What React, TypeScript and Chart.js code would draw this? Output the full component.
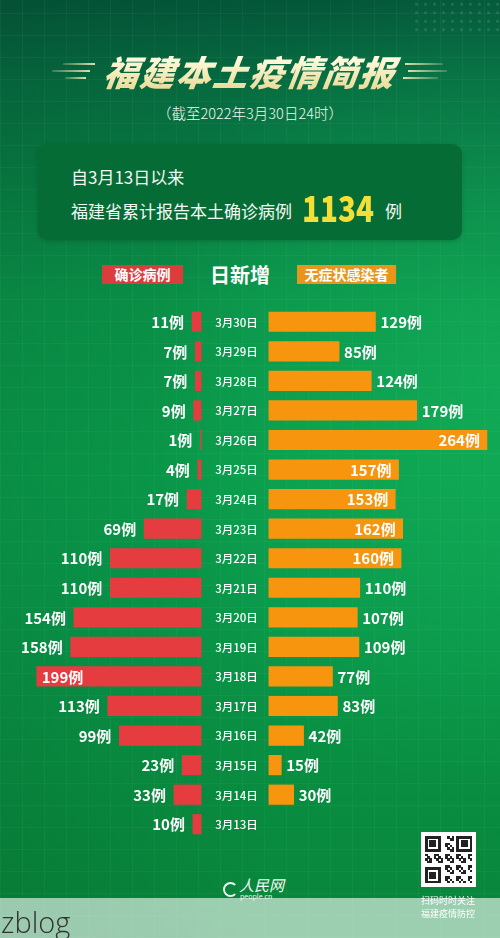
import React, { useEffect, useRef } from "react";
import { Chart, registerables } from "chart.js";

Chart.register(...registerables);

// ---------------- data ----------------
const dates = [
  "3月30日", "3月29日", "3月28日", "3月27日", "3月26日", "3月25日",
  "3月24日", "3月23日", "3月22日", "3月21日", "3月20日", "3月19日",
  "3月18日", "3月17日", "3月16日", "3月15日", "3月14日", "3月13日",
];
const confirmed = [11, 7, 7, 9, 1, 4, 17, 69, 110, 110, 154, 158, 199, 113, 99, 23, 33, 10];
const asymptomatic: (number | null)[] = [129, 85, 124, 179, 264, 157, 153, 162, 160, 110, 107, 109, 77, 83, 42, 15, 30, null];
const leftInside = ["3月18日"];
const rightInside = ["3月26日", "3月25日", "3月24日", "3月23日", "3月22日"];
const unit = "例";
const title = "福建本土疫情简报";
const subtitle = "（截至2022年3月30日24时）";
const sinceText = "自3月13日以来";
const totalPrefix = "福建省累计报告本土确诊病例";
const totalValue = "1134";
const legendLeft = "确诊病例";
const legendMid = "日新增";
const legendRight = "无症状感染者";

// ---------------- layout constants ----------------
const HALF_GAP = 41; // half of the central gap, in value units
const X_MIN = -284.5;
const X_MAX = 320.8;
const RED = "#e43c3f";
const ORANGE = "#f7960e";
const CJK = '"Noto Sans CJK SC", "Noto Sans", sans-serif';

const labelPlugin = {
  id: "butterflyLabels",
  afterDatasetsDraw(chart: any) {
    const ctx = chart.ctx;
    const xs = chart.scales.x;
    const ys = chart.scales.y;
    ctx.save();
    ctx.textBaseline = "middle";
    // date labels
    ctx.font = `500 11.5px ${CJK}`;
    ctx.fillStyle = "#ffffff";
    ctx.textAlign = "center";
    const mid = xs.getPixelForValue(0) + 1.5;
    dates.forEach((d, i) => {
      ctx.fillText(d, mid, ys.getPixelForValue(i) + 0.5);
    });
    ctx.font = `bold 15px ${CJK}`;
    // left labels
    const m0 = chart.getDatasetMeta(0);
    m0.data.forEach((el: any, i: number) => {
      const left = Math.min(el.x, el.base);
      const y = el.y + 0.5;
      const txt = confirmed[i] + unit;
      if (leftInside.includes(dates[i])) {
        ctx.textAlign = "left";
        ctx.fillText(txt, left + 5, y);
      } else {
        ctx.textAlign = "right";
        ctx.fillText(txt, left - 8, y);
      }
    });
    const m1 = chart.getDatasetMeta(1);
    m1.data.forEach((el: any, i: number) => {
      const v = asymptomatic[i];
      if (v == null) return;
      const right = Math.max(el.x, el.base);
      const y = el.y + 0.5;
      const txt = v + unit;
      if (rightInside.includes(dates[i])) {
        ctx.textAlign = "right";
        ctx.fillText(txt, right - 7, y);
      } else {
        ctx.textAlign = "left";
        ctx.fillText(txt, right + 5, y);
      }
    });
    ctx.restore();
  },
};

function ButterflyChart() {
  const ref = useRef<HTMLCanvasElement | null>(null);
  useEffect(() => {
    if (!ref.current) return;
    const chart = new Chart(ref.current, {
      type: "bar",
      data: {
        labels: dates,
        datasets: [
          {
            label: legendLeft,
            data: confirmed.map((v) => [-(HALF_GAP + v), -HALF_GAP]) as any,
            backgroundColor: RED,
            borderWidth: 0,
            grouped: false,
            barThickness: 19.5,
          } as any,
          {
            label: legendRight,
            data: asymptomatic.map((v) => (v == null ? null : [HALF_GAP, HALF_GAP + v])) as any,
            backgroundColor: ORANGE,
            borderWidth: 0,
            grouped: false,
            barThickness: 19.5,
          } as any,
        ],
      },
      options: {
        indexAxis: "y",
        responsive: false,
        maintainAspectRatio: false,
        animation: false,
        layout: { padding: 0 },
        plugins: { legend: { display: false }, tooltip: { enabled: false } },
        scales: {
          x: { type: "linear", min: X_MIN, max: X_MAX, display: false },
          y: { type: "category", display: false, offset: true },
        },
      },
      plugins: [labelPlugin],
    });
    return () => chart.destroy();
  }, []);
  return (
    <canvas
      ref={ref}
      width={500}
      height={532}
      style={{ position: "absolute", left: 0, top: 307, width: 500, height: 532 }}
    />
  );
}

function DecoLines({ side }: { side: "left" | "right" }) {
  const lines =
    side === "left"
      ? [
          { x1: 63, x2: 95, y: 64 },
          { x1: 52, x2: 90, y: 71 },
          { x1: 65, x2: 86, y: 78 },
        ]
      : [
          { x1: 405, x2: 443, y: 64 },
          { x1: 408, x2: 447, y: 71 },
          { x1: 403, x2: 438, y: 78 },
        ];
  return (
    <>
      {lines.map((l, i) => (
        <div
          key={i}
          style={{
            position: "absolute",
            left: l.x1,
            top: l.y - 1,
            width: l.x2 - l.x1,
            height: 1.5,
            background:
              side === "left"
                ? "linear-gradient(90deg, rgba(240,235,190,0.2), rgba(240,235,190,0.9))"
                : "linear-gradient(90deg, rgba(240,235,190,0.9), rgba(240,235,190,0.2))",
          }}
        />
      ))}
    </>
  );
}

function QR() {
  const n = 21;
  const cells: JSX.Element[] = [];
  const size = 47 / n;
  const finder = (r: number, c: number) => {
    const inF = (r0: number, c0: number) => {
      const rr = r - r0, cc = c - c0;
      if (rr < 0 || rr > 6 || cc < 0 || cc > 6) return null;
      if (rr === 0 || rr === 6 || cc === 0 || cc === 6) return true;
      if (rr >= 2 && rr <= 4 && cc >= 2 && cc <= 4) return true;
      return false;
    };
    const a = inF(0, 0);
    if (a !== null) return a;
    const b = inF(0, n - 7);
    if (b !== null) return b;
    const c2 = inF(n - 7, 0);
    if (c2 !== null) return c2;
    if ((r === 7 && (c <= 7 || c >= n - 8)) || (c === 7 && (r <= 7 || r >= n - 8)) || (r === n - 8 && c <= 7) || (c === n - 8 && r <= 7)) return false;
    return ((r * 7 + c * 13 + r * c) % 5) < 2;
  };
  for (let r = 0; r < n; r++)
    for (let c = 0; c < n; c++)
      if (finder(r, c))
        cells.push(
          <div
            key={r * n + c}
            style={{ position: "absolute", left: c * size, top: r * size, width: size + 0.3, height: size + 0.3, background: "#222" }}
          />
        );
  return (
    <div style={{ position: "absolute", left: 421, top: 832, width: 55, height: 55, background: "#fff" }}>
      <div style={{ position: "absolute", left: 4, top: 4, width: 47, height: 47 }}>{cells}</div>
    </div>
  );
}

export default function App() {
  useEffect(() => {
    document.body.style.margin = "0";
  }, []);
  return (
    <div
      style={{
        position: "absolute",
        left: 0,
        top: 0,
        width: 500,
        height: 938,
        overflow: "hidden",
        fontFamily: CJK,
        background: [
          "repeating-linear-gradient(0deg, rgba(255,255,255,0.035) 0 1px, transparent 1px 22px)",
          "repeating-linear-gradient(90deg, rgba(255,255,255,0.035) 0 1px, transparent 1px 22px)",
          "radial-gradient(ellipse 70% 45% at 100% 40%, rgba(30,200,110,0.35), rgba(30,200,110,0) 100%)",
          "linear-gradient(90deg, rgba(0,40,20,0.12), rgba(0,40,20,0) 55%)",
          "linear-gradient(180deg, #04563a 0%, #066a40 8%, #087f44 20%, #0a9449 32%, #0a9c4b 50%, #0a984a 65%, #098f42 80%, #08853a 100%)",
        ].join(","),
      }}
    >
      {/* dot pattern top right */}
      <div
        style={{
          position: "absolute",
          left: 412,
          top: 0,
          width: 88,
          height: 34,
          backgroundImage: "radial-gradient(circle, rgba(255,255,255,0.12) 1.2px, transparent 1.6px)",
          backgroundSize: "9px 8.5px",
        }}
      />
      <DecoLines side="left" />
      <DecoLines side="right" />
      <div
        style={{
          position: "absolute",
          left: 0,
          width: 500,
          top: 49,
          textAlign: "center",
          fontSize: 35,
          fontWeight: 900,
          fontStyle: "italic",
          lineHeight: "44px",
          letterSpacing: 1.5,
          background: "linear-gradient(180deg, #fffbe0 20%, #eadc9a 90%)",
          WebkitBackgroundClip: "text",
          backgroundClip: "text",
          color: "transparent",
          transform: "skewX(-8deg)",
        }}
      >
        {title}
      </div>
      <div
        style={{
          position: "absolute",
          left: 0,
          width: 500,
          top: 103,
          textAlign: "center",
          fontSize: 14.5,
          lineHeight: "20px",
          color: "#f2f7f2",
          fontWeight: 300,
        }}
      >
        {subtitle}
      </div>
      {/* summary box */}
      <div
        style={{
          position: "absolute",
          left: 38,
          top: 144,
          width: 424,
          height: 96,
          borderRadius: 10,
          background: "#066c36",
          boxShadow: "0 1px 4px rgba(0,40,20,0.25)",
        }}
      />
      <div style={{ position: "absolute", left: 71, top: 165, fontSize: 17, lineHeight: "24px", color: "#f4f8f4" }}>{sinceText}</div>
      <div style={{ position: "absolute", left: 71, top: 199, fontSize: 17, lineHeight: "24px", color: "#f4f8f4", whiteSpace: "nowrap" }}>
        {totalPrefix}
      </div>
      <div
        style={{
          position: "absolute",
          left: 302,
          top: 186,
          fontSize: 36,
          fontWeight: 900,
          lineHeight: "40px",
          color: "#f3df36",
          transform: "scaleX(0.82)",
          transformOrigin: "left center",
          whiteSpace: "nowrap",
        }}
      >
        {totalValue}
      </div>
      <div style={{ position: "absolute", left: 385, top: 199, fontSize: 17, lineHeight: "24px", color: "#f4f8f4" }}>{unit}</div>
      {/* legend */}
      <div
        style={{
          position: "absolute",
          left: 102,
          top: 265,
          width: 81,
          height: 19,
          background: "#dc3c3c",
          color: "#fff",
          fontSize: 14,
          fontWeight: 700,
          lineHeight: "19px",
          textAlign: "center",
        }}
      >
        {legendLeft}
      </div>
      <div
        style={{
          position: "absolute",
          left: 200,
          width: 80,
          top: 261,
          color: "#fff",
          fontSize: 20,
          fontWeight: 700,
          lineHeight: "28px",
          textAlign: "center",
        }}
      >
        {legendMid}
      </div>
      <div
        style={{
          position: "absolute",
          left: 297,
          top: 265,
          width: 99,
          height: 19,
          background: "#e8951a",
          color: "#fff",
          fontSize: 14,
          fontWeight: 700,
          lineHeight: "19px",
          textAlign: "center",
        }}
      >
        {legendRight}
      </div>
      <ButterflyChart />
      {/* logo */}
      <div
        style={{
          position: "absolute",
          left: 223,
          top: 882,
          width: 11,
          height: 11,
          borderRadius: "50%",
          border: "2px solid #eef6ee",
          borderRightColor: "transparent",
        }}
      />
      <div
        style={{
          position: "absolute",
          left: 239,
          top: 876,
          fontSize: 15,
          fontStyle: "italic",
          fontFamily: '"Noto Sans CJK SC", serif',
          color: "#f4f8f4",
          lineHeight: "18px",
        }}
      >
        人民网
      </div>
      <div style={{ position: "absolute", left: 240, top: 892, fontSize: 7, color: "#f4f8f4", lineHeight: "8px" }}>people.cn</div>
      <QR />
      <div
        style={{
          position: "absolute",
          left: 420,
          top: 894,
          width: 56,
          fontSize: 9,
          lineHeight: "13px",
          color: "#ffffff",
          textAlign: "center",
        }}
      >
        扫码时时关注
        <br />
        福建疫情防控
      </div>
      {/* watermark strip */}
      <div style={{ position: "absolute", left: 0, top: 898, width: 500, height: 40, background: "rgba(255,255,255,0.6)" }} />
      <div
        style={{
          position: "absolute",
          left: 1,
          top: 905,
          fontSize: 29,
          lineHeight: "34px",
          color: "#333",
          fontFamily: '"Open Sans", sans-serif',
          fontWeight: 300,
        }}
      >
        zblog
      </div>
    </div>
  );
}
